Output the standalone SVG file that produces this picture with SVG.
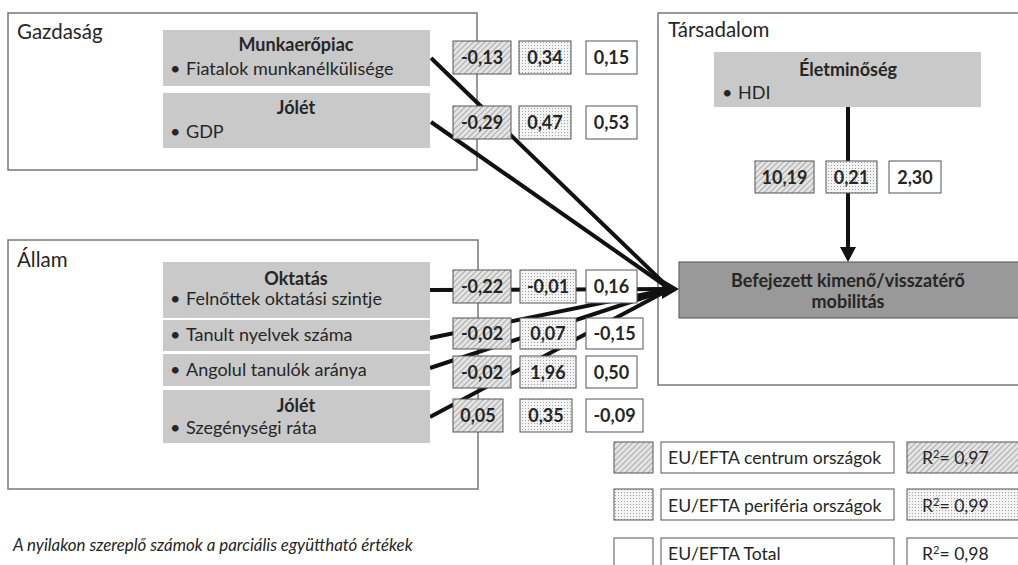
<svg xmlns="http://www.w3.org/2000/svg" width="1018" height="565" viewBox="0 0 1018 565">
<style>
.frame{fill:#fff;stroke:#777;stroke-width:1.5}
.node{fill:#c9c9c9}
.t{font-family:Lato,"Open Sans",sans-serif;fill:#262626}
.grp{font-size:20.5px}
.ttl{font-size:18px;font-weight:bold;text-anchor:middle}
.itm{font-size:18px}
.val{font-size:18px;font-weight:bold;text-anchor:middle}
.vb{stroke:#555;stroke-width:1}
.c{fill:url(#hatch)}
.p{fill:url(#dots)}
.w{fill:#fff}
.ln{stroke:#111;stroke-width:4;fill:none}
.leg{font-size:17.6px}
</style>
<defs>
<pattern id="hatch" width="4" height="4" patternUnits="userSpaceOnUse" patternTransform="rotate(45)"><rect width="4" height="4" fill="#e4e4e4"/><line x1="0" y1="0" x2="0" y2="4" stroke="#8a8a8a" stroke-width="1.3"/></pattern>
<pattern id="dots" width="3" height="3" patternUnits="userSpaceOnUse"><rect width="3" height="3" fill="#f3f3f3"/><rect width="1" height="1" fill="#a0a0a0"/></pattern>
</defs>
<rect width="1018" height="565" fill="#fff"/>

<g id="gazdasag">
<rect class="frame" x="8" y="13" width="469" height="157"/>
<text class="t grp" x="17" y="39">Gazdaság</text>
</g>
<g id="allam">
<rect class="frame" x="8" y="240" width="470" height="249"/>
<text class="t grp" x="17" y="267">Állam</text>
</g>
<g id="tarsadalom">
<rect class="frame" x="658" y="13" width="365" height="372"/>
<text class="t grp" x="668" y="37">Társadalom</text>
</g>

<g id="connectors">
<line class="ln" x1="431" y1="58" x2="670" y2="289"/>
<line class="ln" x1="431" y1="122" x2="670" y2="289"/>
<line class="ln" x1="430" y1="290" x2="670" y2="289"/>
<line class="ln" x1="430" y1="338" x2="670" y2="289"/>
<line class="ln" x1="430" y1="368" x2="670" y2="289"/>
<line class="ln" x1="430" y1="417" x2="670" y2="289"/>
<polygon points="662,279 679,289 662,299" fill="#111"/>
<line class="ln" x1="848" y1="107" x2="848" y2="250"/>
<polygon points="840,247 848,262 856,247" fill="#111"/>
</g>

<g id="munkaeropiac">
<rect class="node" x="163" y="30" width="267" height="56"/>
<text class="t ttl" x="296" y="51">Munkaerőpiac</text>
<text class="t itm" x="170" y="75">•</text>
<text class="t itm" x="186" y="75">Fiatalok munkanélkülisége</text>
</g>
<g id="jolet1">
<rect class="node" x="163" y="93" width="267" height="55"/>
<text class="t ttl" x="296" y="114">Jólét</text>
<text class="t itm" x="170" y="138">•</text>
<text class="t itm" x="186" y="138">GDP</text>
</g>
<g id="oktatas">
<rect class="node" x="163" y="262" width="267" height="56"/>
<text class="t ttl" x="296" y="285">Oktatás</text>
<text class="t itm" x="170" y="305">•</text>
<text class="t itm" x="186" y="305">Felnőttek oktatási szintje</text>
</g>
<g id="tanult">
<rect class="node" x="163" y="320" width="267" height="31"/>
<text class="t itm" x="170" y="341">•</text>
<text class="t itm" x="186" y="341">Tanult nyelvek száma</text>
</g>
<g id="angolul">
<rect class="node" x="163" y="354" width="267" height="32"/>
<text class="t itm" x="170" y="376">•</text>
<text class="t itm" x="186" y="376">Angolul tanulók aránya</text>
</g>
<g id="jolet2">
<rect class="node" x="163" y="390" width="267" height="53"/>
<text class="t ttl" x="296" y="412">Jólét</text>
<text class="t itm" x="170" y="434">•</text>
<text class="t itm" x="186" y="434">Szegénységi ráta</text>
</g>
<g id="eletminoseg">
<rect class="node" x="714" y="52" width="267" height="55"/>
<text class="t ttl" x="848" y="76">Életminőség</text>
<text class="t itm" x="722" y="99">•</text>
<text class="t itm" x="738" y="99">HDI</text>
</g>
<g id="befejezett">
<rect x="679" y="262" width="345" height="56" fill="#999" stroke="#666" stroke-width="1.2"/>
<text class="t ttl" x="848" y="287">Befejezett kimenő/visszatérő</text>
<text class="t ttl" x="848" y="308">mobilitás</text>
</g>

<g id="values">
<rect class="vb c" x="453" y="41" width="58" height="33"/><text class="t val" x="482" y="64">-0,13</text>
<rect class="vb p" x="519" y="41" width="52" height="33"/><text class="t val" x="545" y="64">0,34</text>
<rect class="vb w" x="586" y="41" width="51" height="33"/><text class="t val" x="611.5" y="64">0,15</text>

<rect class="vb c" x="453" y="106" width="58" height="33"/><text class="t val" x="482" y="129">-0,29</text>
<rect class="vb p" x="519" y="106" width="52" height="33"/><text class="t val" x="545" y="129">0,47</text>
<rect class="vb w" x="586" y="106" width="51" height="33"/><text class="t val" x="611.5" y="129">0,53</text>

<rect class="vb c" x="755" y="161" width="59" height="32"/><text class="t val" x="784.5" y="184">10,19</text>
<rect class="vb p" x="826" y="161" width="51" height="32"/><text class="t val" x="851.5" y="184">0,21</text>
<rect class="vb w" x="889" y="161" width="52" height="32"/><text class="t val" x="915" y="184">2,30</text>

<rect class="vb c" x="453" y="270" width="58" height="33"/><text class="t val" x="482" y="293">-0,22</text>
<rect class="vb p" x="520" y="270" width="56" height="33"/><text class="t val" x="548" y="293">-0,01</text>
<rect class="vb w" x="586" y="270" width="51" height="33"/><text class="t val" x="611.5" y="293">0,16</text>

<rect class="vb c" x="453" y="318" width="58" height="31"/><text class="t val" x="482" y="340">-0,02</text>
<rect class="vb p" x="520" y="318" width="56" height="31"/><text class="t val" x="548" y="340">0,07</text>
<rect class="vb w" x="586" y="318" width="57" height="31"/><text class="t val" x="614.5" y="340">-0,15</text>

<rect class="vb c" x="453" y="356" width="58" height="32"/><text class="t val" x="482" y="379">-0,02</text>
<rect class="vb p" x="520" y="356" width="56" height="32"/><text class="t val" x="548" y="379">1,96</text>
<rect class="vb w" x="586" y="356" width="51" height="32"/><text class="t val" x="611.5" y="379">0,50</text>

<rect class="vb c" x="453" y="399" width="50" height="33"/><text class="t val" x="478" y="422">0,05</text>
<rect class="vb p" x="520" y="399" width="52" height="33"/><text class="t val" x="546" y="422">0,35</text>
<rect class="vb w" x="586" y="399" width="57" height="33"/><text class="t val" x="614.5" y="422">-0,09</text>
</g>

<g id="legend">
<rect class="vb c" x="614" y="442" width="39" height="31"/>
<rect class="vb w" x="661" y="442" width="233" height="31"/>
<text class="t leg" x="668" y="464">EU/EFTA centrum országok</text>
<rect class="vb c" x="907" y="442" width="120" height="31"/>
<text class="t leg" x="922" y="464">R<tspan font-size="11" dy="-6">2</tspan><tspan dy="6">= 0,97</tspan></text>

<rect class="vb p" x="614" y="489" width="39" height="31"/>
<rect class="vb w" x="661" y="489" width="233" height="31"/>
<text class="t leg" x="668" y="512">EU/EFTA periféria országok</text>
<rect class="vb p" x="907" y="489" width="120" height="31"/>
<text class="t leg" x="922" y="512">R<tspan font-size="11" dy="-6">2</tspan><tspan dy="6">= 0,99</tspan></text>

<rect class="vb w" x="614" y="538" width="39" height="40"/>
<rect class="vb w" x="661" y="538" width="233" height="40"/>
<text class="t leg" x="668" y="560">EU/EFTA Total</text>
<rect class="vb w" x="907" y="538" width="120" height="40"/>
<text class="t leg" x="922" y="560">R<tspan font-size="11" dy="-6">2</tspan><tspan dy="6">= 0,98</tspan></text>
</g>

<text class="t" x="13" y="551" font-size="16.9" font-style="italic">A nyilakon szereplő számok a parciális együttható értékek</text>
</svg>
